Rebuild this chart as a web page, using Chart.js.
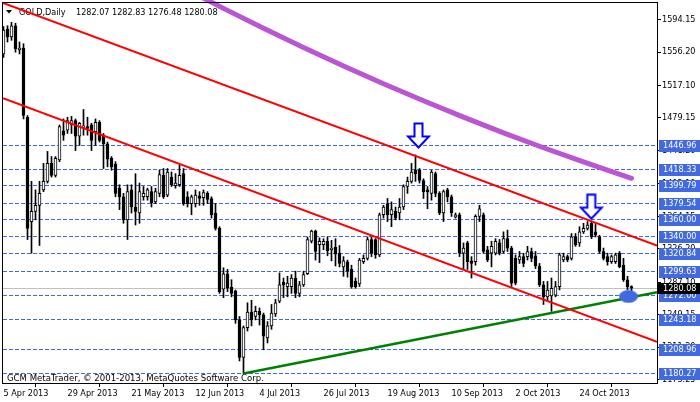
<!DOCTYPE html>
<html><head><meta charset="utf-8">
<script src="https://cdn.jsdelivr.net/npm/chart.js@4.4.1/dist/chart.umd.min.js"></script>
<style>html,body{margin:0;padding:0;background:#fff;overflow:hidden}canvas{display:block}</style>
</head><body>
<canvas id="c" width="700" height="402"></canvas>
<script>
// ---- data ----
const dateTickBars = [0,16,32,48,64,80,96,112,128,144];
const dateTickLabels = ['5 Apr 2013','29 Apr 2013','21 May 2013','12 Jun 2013','4 Jul 2013','26 Jul 2013','19 Aug 2013','10 Sep 2013','2 Oct 2013','24 Oct 2013'];
const priceTicks = [1594.15,1556.20,1517.10,1479.15,1441.20,1402.10,1364.15,1326.20,1287.10,1249.15,1211.20,1173.25];
const levels = [1446.96,1418.33,1399.79,1379.54,1360.00,1340.00,1320.84,1299.63,1272.00,1243.18,1208.96,1180.27];
const lastPrice = 1280.08;
const headerValues = ['1282.07','1282.83','1276.48','1280.08'];

const opens = [1554,1583,1574,1587,1559,1561,1480,1358,1370,1377, 1395,1405,1426,1412,1430,1464,1465,1471,1476,1458,
1468,1469,1471,1463,1474,1459,1449,1432,1425,1397, 1387,1360,1395,1375,1368,1387,1387,1393,1381,1391,
1412,1389,1410,1400,1401,1414,1387,1379,1379,1388, 1386,1391,1385,1368,1350,1279,1297,1281,1277,1243,
1199,1234,1252,1247,1253,1249,1222,1236,1250,1265, 1287,1282,1282,1292,1274,1284,1297,1335,1347,1331,
1331,1335,1325,1328,1321,1305,1311,1302,1288,1285, 1311,1315,1337,1337,1319,1366,1379,1366,1370,1368,
1375,1399,1405,1418,1418,1406,1395,1391,1414,1391, 1368,1395,1387,1363,1366,1321,1333,1312,1311,1364,
1366,1325,1321,1321,1333,1323,1338,1327,1315,1313, 1317,1317,1323,1318,1306,1284,1270,1271,1272,1282,
1313,1317,1315,1340,1333,1346,1350,1356,1346,1340, 1323,1317,1311,1311,1321,1307,1290,1282.07];
const highs = [1586,1587,1591,1590,1568,1566,1482,1405,1395,1405, 1426,1440,1434,1434,1471,1478,1480,1481,1478,1474,
1489,1480,1473,1478,1476,1461,1451,1434,1428,1401, 1391,1401,1401,1414,1403,1399,1397,1399,1397,1418,
1420,1420,1416,1414,1424,1420,1393,1389,1395,1393, 1395,1393,1387,1379,1352,1304,1302,1290,1278,1247,
1236,1263,1266,1259,1257,1251,1241,1261,1267,1298, 1292,1294,1296,1300,1288,1300,1340,1348,1348,1339,
1338,1340,1336,1338,1330,1317,1313,1307,1292,1315, 1319,1340,1340,1338,1368,1377,1385,1381,1375,1385,
1401,1410,1426,1436,1420,1408,1399,1418,1416,1393, 1395,1397,1389,1368,1368,1333,1335,1317,1366,1377,
1368,1329,1335,1338,1337,1346,1348,1329,1319,1323, 1321,1329,1327,1323,1309,1288,1288,1292,1288,1321,
1321,1319,1344,1344,1352,1356,1358,1358,1356,1342, 1327,1321,1319,1321,1323,1315,1294,1282.83];
const lows = [1550,1568,1570,1556,1554,1478,1337,1321,1360,1330, 1393,1403,1410,1410,1428,1453,1461,1461,1441,1447,
1459,1459,1441,1447,1451,1420,1422,1418,1387,1372, 1356,1337,1368,1354,1356,1383,1383,1375,1379,1387,
1385,1387,1399,1397,1399,1377,1375,1366,1375,1377, 1377,1379,1362,1348,1274,1269,1276,1270,1239,1195,
1180.3,1230,1236,1243,1237,1208,1216,1232,1247,1263, 1269,1270,1274,1269,1270,1282,1296,1333,1313,1310,
1325,1318,1312,1306,1305,1294,1293,1280,1280,1282, 1309,1313,1317,1315,1317,1362,1358,1352,1360,1360,
1372,1391,1403,1405,1403,1385,1373,1383,1387,1366, 1358,1381,1364,1362,1317,1302,1302,1292,1307,1358,
1321,1311,1305,1319,1319,1321,1323,1282,1284,1309, 1305,1313,1311,1303,1282,1261,1265,1253,1270,1278,
1311,1311,1313,1329,1329,1344,1348,1338,1340,1321, 1313,1307,1309,1309,1304,1288,1278,1276.48];
const closes = [1582,1574,1587,1560,1561,1482,1350,1370,1377,1391, 1405,1426,1412,1432,1469,1459,1476,1476,1458,1473,
1470,1467,1453,1474,1453,1449,1431,1422,1391,1387, 1360,1393,1375,1370,1393,1391,1395,1380,1393,1413,
1387,1416,1401,1403,1412,1379,1379,1387,1389,1385, 1392,1384,1366,1350,1276,1297,1280,1274,1243,1199,
1234,1252,1243,1253,1249,1224,1236,1251,1263,1284, 1284,1286,1292,1274,1284,1296,1337,1347,1323,1335,
1335,1324,1327,1320,1309,1312,1300,1282,1282,1313, 1315,1337,1321,1319,1366,1375,1366,1372,1362,1375,
1399,1405,1416,1414,1406,1393,1393,1416,1391,1368, 1393,1387,1368,1366,1321,1327,1311,1309,1364,1373,
1323,1313,1329,1335,1321,1338,1327,1286,1286,1317, 1309,1323,1315,1306,1284,1270,1278,1280,1282,1319,
1317,1313,1340,1331,1346,1350,1354,1340,1342,1323, 1315,1311,1317,1319,1305,1290,1282,1280.08];

// moving average (purple) read at some bars
const maBars   = [47,55,65,75,85,95,105,115,125,135,145,157];
const maValues = [1626.5,1607.3,1584.0,1561.6,1540.0,1519.2,1499.2,1480.1,1461.8,1444.3,1427.7,1408.6];
// trend lines: [bar, price] end points
const upperChannel = [[-0.125,1613.7],[163.375,1329.9]];
const lowerChannel = [[-0.125,1502.3],[163.375,1217.3]];
const supportLine  = [[60,1180.3],[163.375,1275.5]];
// markers
const arrowMarks  = [[103.75,1458.7],[146.95,1375.4]];
const ellipseMark = [[156.25,1270.4]];

// ---- helpers ----
const X_MIN = -0.125, X_MAX = 163.375, Y_MIN = 1169.2, Y_MAX = 1613.6;
const FONT_FAM = "'DejaVu Sans Condensed','DejaVu Sans',sans-serif";
const tickFont = {family: FONT_FAM, size: 9};
const pts = arr => arr.map(([x,y]) => ({x, y}));

function makeArrow(){
  const c = document.createElement('canvas'); c.width = 25; c.height = 27;
  const g = c.getContext('2d');
  g.beginPath();
  g.moveTo(8.5,1.5); g.lineTo(16.5,1.5); g.lineTo(16.5,14.5); g.lineTo(23,14.5);
  g.lineTo(12.5,25.5); g.lineTo(2,14.5); g.lineTo(8.5,14.5); g.closePath();
  g.fillStyle = '#fff'; g.fill();
  g.lineWidth = 2; g.strokeStyle = '#0000ff'; g.lineJoin = 'miter'; g.stroke();
  return c;
}
function makeEllipse(){
  const c = document.createElement('canvas'); c.width = 20; c.height = 14;
  const g = c.getContext('2d');
  g.beginPath(); g.ellipse(10,7,9.5,6.5,0,0,Math.PI*2);
  g.fillStyle = '#4169E1'; g.fill();
  return c;
}

const datasets = [];
levels.forEach(v => datasets.push({type:'line', snap:true, data:[{x:X_MIN,y:v},{x:X_MAX,y:v}], borderColor:'#4169E1', borderWidth:1, borderDash:[4,2], pointRadius:0, order:7}));
datasets.push({type:'line', snap:true, data:[{x:X_MIN,y:lastPrice},{x:X_MAX,y:lastPrice}], borderColor:'#C0C0C0', borderWidth:1, pointRadius:0, order:6});
datasets.push({type:'bar', data: opens.map((o,i)=>({x:i, y:[lows[i], highs[i]]})), barThickness:1, backgroundColor:'#000', borderWidth:0, grouped:false, order:5});
datasets.push({type:'bar', data: opens.map((o,i)=>({x:i, y:[Math.min(o,closes[i]), Math.max(o,closes[i])]})), barThickness:3,
  backgroundColor: opens.map((o,i)=> closes[i] >= o ? '#fff' : '#000'), borderColor:'#000', borderWidth:1, borderSkipped:false, minBarLength:1, grouped:false, order:4});
datasets.push({type:'line', data: maBars.map((b,i)=>({x:b, y:maValues[i]})), borderColor:'#BA55D3', borderWidth:5, borderCapStyle:'round', cubicInterpolationMode:'monotone', pointRadius:0, clip:false, order:3});
datasets.push({type:'line', data: pts(upperChannel), borderColor:'#ff0000', borderWidth:2, pointRadius:0, order:2});
datasets.push({type:'line', data: pts(lowerChannel), borderColor:'#ff0000', borderWidth:2, pointRadius:0, order:2});
datasets.push({type:'line', data: pts(supportLine), borderColor:'#008000', borderWidth:2.5, pointRadius:0, order:2});
const arrowImg = makeArrow(), ellImg = makeEllipse();
datasets.push({type:'line', data: pts(arrowMarks), showLine:false, pointStyle: arrowImg, pointRadius:1, pointBorderWidth:0, clip:false, order:1});
datasets.push({type:'line', data: pts(ellipseMark), showLine:false, pointStyle: ellImg, pointRadius:1, pointBorderWidth:0, clip:false, order:0});

const overlay = {
  id:'overlay',
  beforeDatasetDraw(chart, args){
    const ds = chart.data.datasets[args.index];
    if (ds.snap){
      const el = args.meta.data[0];
      const y = el ? el.y : 0;
      const dy = Math.floor(y) + 0.5 - y;
      chart.ctx.save();
      chart.ctx.translate(0, dy);
    }
  },
  afterDatasetDraw(chart, args){
    const ds = chart.data.datasets[args.index];
    if (ds.snap) chart.ctx.restore();
  },
  beforeDatasetsDraw(chart){
    const ctx = chart.ctx;
    ctx.save();
    ctx.fillStyle = '#000';
    ctx.font = '9px ' + FONT_FAM;
    ctx.textBaseline = 'alphabetic';
    ctx.textAlign = 'left';
    ctx.beginPath(); ctx.moveTo(6,10); ctx.lineTo(12,10); ctx.lineTo(9,13.5); ctx.closePath(); ctx.fill();
    ctx.fillText('GOLD,Daily', 19, 15);
    ctx.fillText(headerValues.join(' '), 76, 15);
    ctx.font = '9.5px ' + FONT_FAM;
    ctx.fillText('GCM MetaTrader, \u00A9 2001-2013, MetaQuotes Software Corp.', 7, 381);
    ctx.restore();
  },
  afterDraw(chart){
    const ctx = chart.ctx, a = chart.chartArea, ys = chart.scales.y;
    ctx.save();
    ctx.strokeStyle = '#000'; ctx.lineWidth = 1;
    ctx.strokeRect(a.left - 0.5, a.top - 0.5, a.right - a.left + 1, a.bottom - a.top + 1);
    ctx.font = '9px ' + FONT_FAM; ctx.textBaseline = 'middle'; ctx.textAlign = 'left';
    levels.forEach(v => {
      const y = ys.getPixelForValue(v);
      ctx.fillStyle = '#4169E1';
      ctx.fillRect(a.right + 2, Math.floor(y) - 5, 41, 12);
      ctx.fillStyle = '#fff';
      ctx.fillText(v.toFixed(2), a.right + 6, Math.floor(y) + 1);
    });
    const yl = ys.getPixelForValue(lastPrice);
    ctx.fillStyle = '#000';
    ctx.fillRect(a.right, Math.floor(yl) - 5, 43, 11);
    ctx.fillStyle = '#fff';
    ctx.fillText(lastPrice.toFixed(2), a.right + 6, Math.floor(yl) + 0.5);
    ctx.restore();
  }
};

new Chart(document.getElementById('c'), {
  type:'bar',
  data:{datasets},
  options:{
    responsive:false, animation:false, devicePixelRatio:1,
    layout:{autoPadding:false, padding:{left:3, top:3, right:0, bottom:0}},
    plugins:{legend:{display:false}, tooltip:{enabled:false}},
    scales:{
      x:{type:'linear', min:X_MIN, max:X_MAX, offset:false,
        grid:{drawOnChartArea:false, drawTicks:true, tickLength:4, color:'#000'},
        border:{display:false},
        ticks:{autoSkip:false, maxRotation:0, minRotation:0, align:'start', padding:1, color:'#000', font:tickFont,
          callback:(v)=>{const k = dateTickBars.indexOf(v); return k >= 0 ? dateTickLabels[k] : '';}},
        afterBuildTicks:(s)=>{ s.ticks = dateTickBars.map(v=>({value:v})); },
        afterFit:(s)=>{ s.height = 19; s.paddingLeft = 0; s.paddingRight = 0; }
      },
      y:{type:'linear', position:'right', min:Y_MIN, max:Y_MAX,
        grid:{drawOnChartArea:false, drawTicks:true, tickLength:4, color:'#000'},
        border:{display:false},
        ticks:{padding:1, color:'#000', font:tickFont, callback:(v)=>Number(v).toFixed(2)},
        afterBuildTicks:(s)=>{ s.ticks = priceTicks.slice().sort((p,q)=>p-q).map(v=>({value:v})); },
        afterFit:(s)=>{ s.width = 43; s.paddingTop = 0; s.paddingBottom = 0; }
      }
    }
  },
  plugins:[overlay]
});
</script>
</body></html>
